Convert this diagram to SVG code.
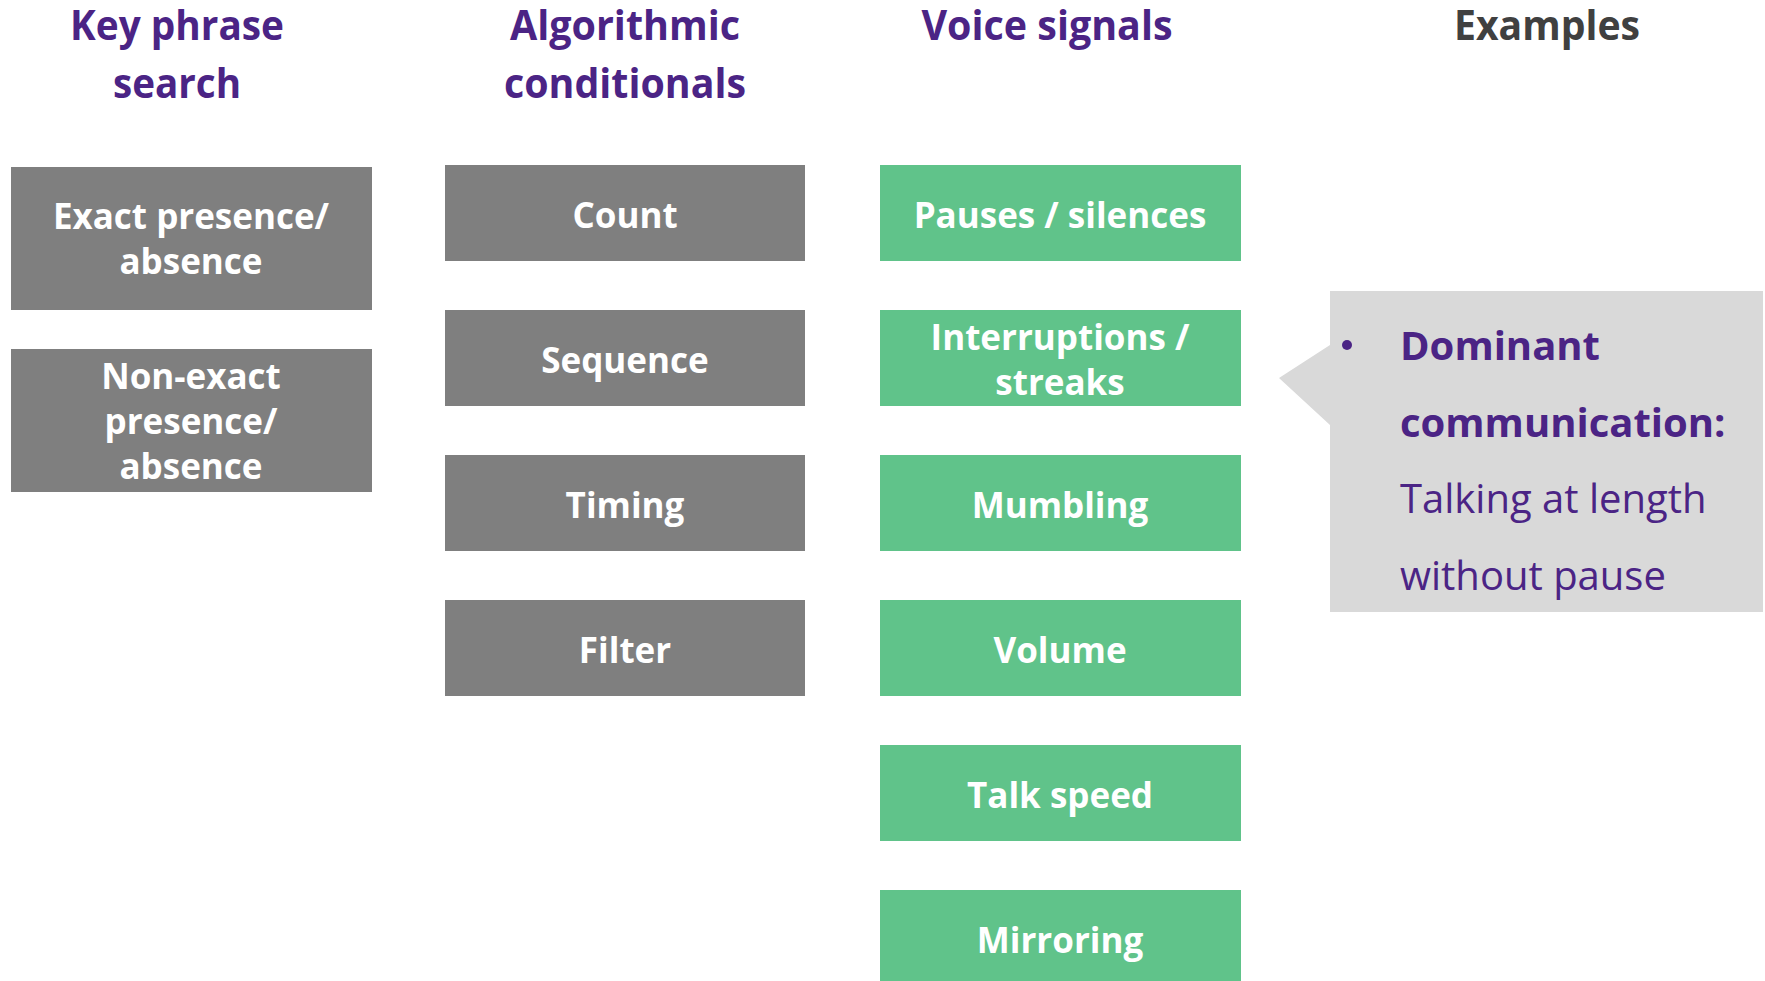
<svg xmlns="http://www.w3.org/2000/svg" width="1765" height="981" viewBox="0 0 1765 981">
<style>
.hd{font-family:"Open Sans","Noto Sans",sans-serif;font-weight:700;font-size:42px;fill:#4B2485;text-anchor:middle}
.gr{fill:#7F7F7F}
.gn{fill:#60C38A}
.bt{font-family:"Open Sans","Noto Sans",sans-serif;font-weight:700;font-size:35px;fill:#FFFFFF;text-anchor:middle}
.cb{font-family:"Open Sans","Noto Sans",sans-serif;font-weight:700;font-size:40px;fill:#4B2485}
.cr{font-family:"Open Sans","Noto Sans",sans-serif;font-weight:400;font-size:40px;fill:#4B2485}
</style>
<rect width="1765" height="981" fill="#FFFFFF"/>
<g id="headers">
<text class="hd" x="177" y="40" textLength="214" lengthAdjust="spacingAndGlyphs">Key phrase</text>
<text class="hd" x="177" y="98" textLength="128" lengthAdjust="spacingAndGlyphs">search</text>
<text class="hd" x="625" y="40" textLength="230" lengthAdjust="spacingAndGlyphs">Algorithmic</text>
<text class="hd" x="625" y="98" textLength="242" lengthAdjust="spacingAndGlyphs">conditionals</text>
<text class="hd" x="1047" y="40" textLength="251" lengthAdjust="spacingAndGlyphs">Voice signals</text>
<text class="hd" x="1547" y="40" textLength="186" lengthAdjust="spacingAndGlyphs" style="fill:#404040">Examples</text>
</g>
<g id="exact"><rect class="gr" x="11" y="167" width="361" height="143"/><text class="bt" x="191" y="229">Exact presence/</text><text class="bt" x="191" y="274">absence</text></g>
<g id="nonexact"><rect class="gr" x="11" y="349" width="361" height="143"/><text class="bt" x="191" y="389">Non-exact</text><text class="bt" x="191" y="434">presence/</text><text class="bt" x="191" y="479">absence</text></g>
<g id="count"><rect class="gr" x="445" y="165" width="360" height="96"/><text class="bt" x="625" y="228">Count</text></g>
<g id="sequence"><rect class="gr" x="445" y="310" width="360" height="96"/><text class="bt" x="625" y="373">Sequence</text></g>
<g id="timing"><rect class="gr" x="445" y="455" width="360" height="96"/><text class="bt" x="625" y="518">Timing</text></g>
<g id="filter"><rect class="gr" x="445" y="600" width="360" height="96"/><text class="bt" x="625" y="663">Filter</text></g>
<g id="pauses"><rect class="gn" x="880" y="165" width="361" height="96"/><text class="bt" x="1060" y="228">Pauses / silences</text></g>
<g id="interruptions"><rect class="gn" x="880" y="310" width="361" height="96"/><text class="bt" x="1060" y="350">Interruptions /</text><text class="bt" x="1060" y="395">streaks</text></g>
<g id="mumbling"><rect class="gn" x="880" y="455" width="361" height="96"/><text class="bt" x="1060" y="518">Mumbling</text></g>
<g id="volume"><rect class="gn" x="880" y="600" width="361" height="96"/><text class="bt" x="1060" y="663">Volume</text></g>
<g id="talkspeed"><rect class="gn" x="880" y="745" width="361" height="96"/><text class="bt" x="1060" y="808">Talk speed</text></g>
<g id="mirroring"><rect class="gn" x="880" y="890" width="361" height="96"/><text class="bt" x="1060" y="953">Mirroring</text></g>
<g id="callout">
<path d="M1330,291 H1763 V612 H1330 V425 L1279,378 L1330,345 Z" fill="#D9D9D9"/>
<circle cx="1347" cy="345" r="5" fill="#4B2485"/>
<text class="cb" x="1400" y="360">Dominant</text>
<text class="cb" x="1400" y="437">communication:</text>
<text class="cr" x="1400" y="513">Talking at length</text>
<text class="cr" x="1400" y="590">without pause</text>
</g>
</svg>
